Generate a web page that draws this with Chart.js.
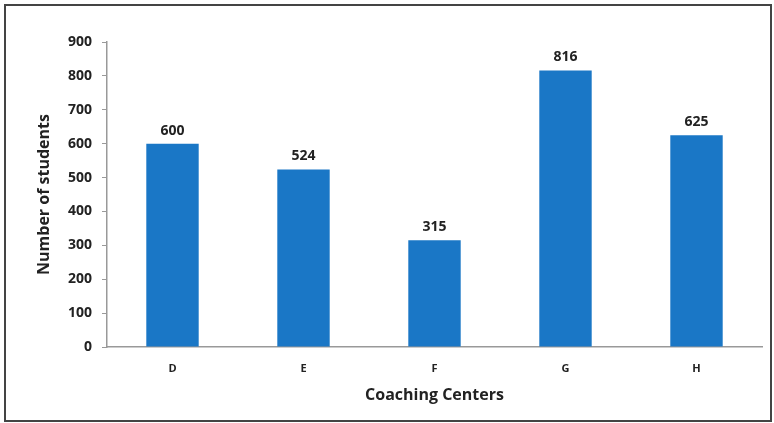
<!DOCTYPE html>
<html>
<head>
<meta charset="utf-8">
<script src="https://cdn.jsdelivr.net/npm/chart.js@4.4.0/dist/chart.umd.min.js"></script>
<style>
    html, body { margin: 0; padding: 0; background: #fff; }
    #wrap { position: relative; width: 774px; height: 423px; }
    #frame { position: absolute; left: 4px; top: 4px; width: 764px; height: 414px; border: 2px solid #444; }
    canvas { position: absolute; left: 0; top: 0; }
</style>
</head>
<body>
<div id="wrap">
    <div id="frame"></div>
    <canvas id="barchart" width="774" height="423"></canvas>
</div>
<script>
// data
var centers = ['D', 'E', 'F', 'G', 'H'];
var students = [600, 524, 315, 816, 625];
var yTicks = [0, 100, 200, 300, 400, 500, 600, 700, 800, 900];

var fontName = "'Open Sans', 'Noto Sans', sans-serif";

// writes the value above each bar
var barLabels = {
    id: 'barLabels',
    afterDatasetsDraw: function (chart) {
        var ctx = chart.ctx;
        var meta = chart.getDatasetMeta(0);
        ctx.save();
        ctx.font = 'bold 14px ' + fontName;
        ctx.fillStyle = '#222';
        ctx.textAlign = 'center';
        ctx.textBaseline = 'bottom';
        for (var i = 0; i < meta.data.length; i++) {
            var bar = meta.data[i];
            ctx.fillText(students[i].toString(), bar.x, bar.y - 6);
        }
        ctx.restore();
    }
};

const ctx = document.getElementById('barchart');

new Chart(ctx, {
    type: 'bar',
    data: {
        labels: centers,
        datasets: [
            {
                label: 'Number of students',
                data: students,
                backgroundColor: '#1a77c6',
                barPercentage: 0.4,
                categoryPercentage: 1.0
            }
        ]
    },
    options: {
        responsive: false,
        animation: false,
        layout: {
            padding: { left: 26, right: 12, top: 42, bottom: 0 }
        },
        plugins: {
            legend: { display: false },
            tooltip: { enabled: false }
        },
        scales: {
            x: {
                afterFit: function (scale) { scale.height = 76; },
                grid: { display: false, drawTicks: false },
                border: { display: true, color: '#999', width: 1.5 },
                ticks: {
                    padding: 15,
                    color: '#222',
                    font: { family: fontName, size: 11, weight: 'bold' }
                },
                title: {
                    display: true,
                    text: 'Coaching Centers',
                    color: '#222',
                    padding: { top: 0, bottom: 18 },
                    font: { family: fontName, size: 16, weight: 'bold' }
                }
            },
            y: {
                min: 0,
                max: 900,
                afterFit: function (scale) { scale.width = 81; },
                afterBuildTicks: function (scale) {
                    scale.ticks = yTicks.map(function (v) { return { value: v }; });
                },
                grid: {
                    drawOnChartArea: false,
                    drawTicks: true,
                    tickLength: 5,
                    color: '#999'
                },
                border: { display: true, color: '#999', width: 1.5 },
                ticks: {
                    padding: 10,
                    color: '#222',
                    font: { family: fontName, size: 14, weight: 'bold' }
                },
                title: {
                    display: true,
                    text: 'Number of students',
                    color: '#222',
                    padding: { top: 9, bottom: 0 },
                    font: { family: fontName, size: 16, weight: 'bold' }
                }
            }
        }
    },
    plugins: [barLabels]
});
</script>
</body>
</html>
